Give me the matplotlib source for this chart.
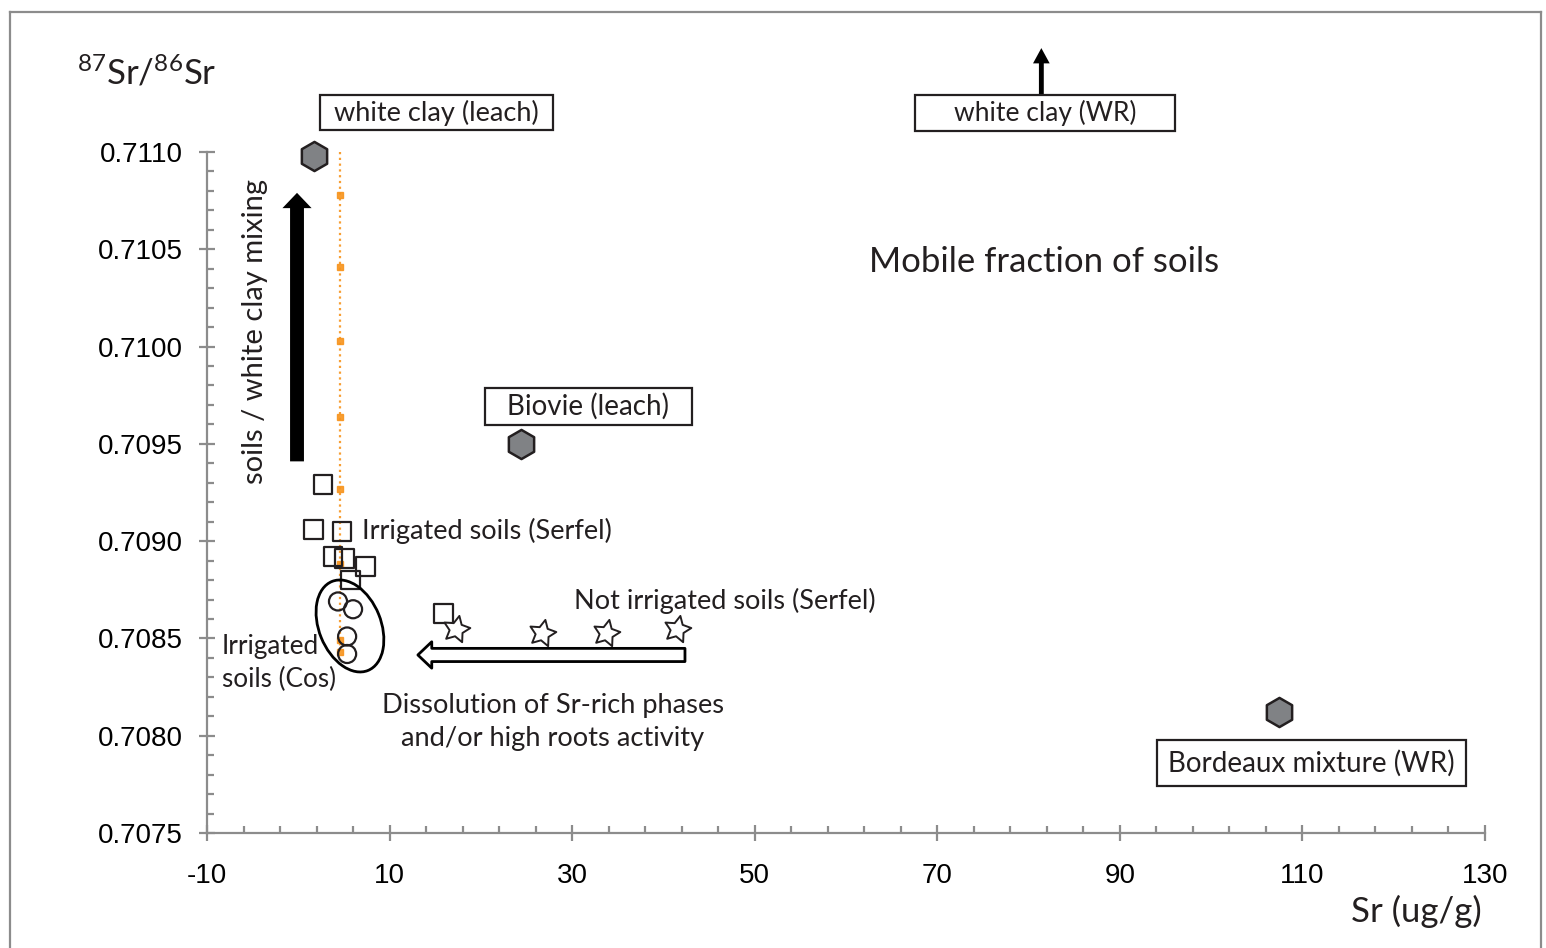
import numpy as np
import matplotlib
matplotlib.use("Agg")
import matplotlib.pyplot as plt
from matplotlib.patches import FancyArrowPatch, Ellipse, Rectangle
from matplotlib.ticker import FixedLocator, FormatStrFormatter
from matplotlib.transforms import ScaledTranslation
from matplotlib.lines import Line2D

# --- data ---
# end-members (hexagons)
hex_sr = [1.7, 24.4, 107.4]
hex_ratio = [0.71098, 0.70950, 0.70812]

# irrigated soils (Serfel) - open squares
irr_serfel_sr = [2.7, 1.7, 4.8, 3.8, 5.1, 7.4, 5.7, 15.9]
irr_serfel_ratio = [0.70929, 0.70906, 0.70905, 0.70892, 0.70891, 0.70887, 0.70880, 0.70863]

# irrigated soils (Cos) - open circles
irr_cos_sr = [4.35, 6.0, 5.35, 5.35]
irr_cos_ratio = [0.70869, 0.70865, 0.70851, 0.70842]

# not irrigated soils (Serfel) - stars
not_irr_sr = [17.3, 26.7, 33.7, 41.5]
not_irr_ratio = [0.70855, 0.70853, 0.70853, 0.70855]

# soils / white clay mixing line
mix_sr = [4.6, 4.6, 4.6, 4.6, 4.6, 4.6, 4.6, 4.6, 4.6]
mix_ratio = [0.71100, 0.71078, 0.71041, 0.71003, 0.70964, 0.70927, 0.70888, 0.70849, 0.70843]

xticks = [-10, 10, 30, 50, 70, 90, 110, 130]
yticks = [0.7075, 0.7080, 0.7085, 0.7090, 0.7095, 0.7100, 0.7105, 0.7110]

INK = "#231f20"
GRAY = "#8c8c8c"
ORANGE = "#f7941d"
FONT = ["Lato", "DejaVu Sans"]

plt.rcParams["mathtext.fontset"] = "custom"
plt.rcParams["mathtext.rm"] = "Lato"
plt.rcParams["mathtext.default"] = "regular"
plt.rcParams["axes.unicode_minus"] = False

fig = plt.figure(figsize=(15.46, 9.48), dpi=100)
ax = fig.add_axes([207 / 1546, 1 - 833 / 948, (1485 - 207) / 1546, (833 - 152) / 948])

# figure frame
for xs, ys in [([10, 10], [0, 936]), ([10, 1541], [936, 936]), ([1541, 1541], [936, 0])]:
    fig.add_artist(Line2D([x / 1546 for x in xs], [y / 948 for y in ys],
                          color=GRAY, lw=1.6, transform=fig.transFigure))

ax.set_xlim(-10, 130)
ax.set_ylim(0.7075, 0.7110)
for s in ["top", "right"]:
    ax.spines[s].set_visible(False)
for s in ["left", "bottom"]:
    ax.spines[s].set_color(GRAY)
    ax.spines[s].set_linewidth(1.6)

ax.xaxis.set_major_locator(FixedLocator(xticks))
ax.xaxis.set_minor_locator(FixedLocator(np.arange(-10, 131, 4)))
ax.yaxis.set_major_locator(FixedLocator(yticks))
ax.yaxis.set_minor_locator(FixedLocator(np.arange(0.7075, 0.71101, 0.0001)))
ax.yaxis.set_major_formatter(FormatStrFormatter("%.4f"))
ax.tick_params(which="major", direction="inout", length=11, width=1.6, color=GRAY,
               labelsize=20, labelcolor="black")
ax.tick_params(which="minor", direction="in", length=5, width=1.6, color=GRAY)
ax.tick_params(axis="x", which="major", pad=16)
ax.tick_params(axis="y", which="major", pad=12)
for lab in ax.get_xticklabels() + ax.get_yticklabels():
    lab.set_fontfamily(["Liberation Sans", "DejaVu Sans"])

# mixing line
ax.plot(mix_sr, mix_ratio, ls=(0, (1, 1.6)), color=ORANGE, lw=1.6, marker="s", ms=4,
        markevery=list(range(1, len(mix_ratio))), mec=ORANGE, mfc=ORANGE, alpha=0.9,
        zorder=2, clip_on=False)

ax.scatter(hex_sr, hex_ratio, marker="h", s=21 ** 2, facecolor="#808285", edgecolor=INK,
           linewidth=1.8, zorder=4, clip_on=False)
ax.scatter(irr_serfel_sr, irr_serfel_ratio, marker="s", s=13.5 ** 2, facecolor="none",
           edgecolor=INK, linewidth=1.6, zorder=3)
ax.scatter(irr_cos_sr, irr_cos_ratio, marker="o", s=13 ** 2, facecolor="none",
           edgecolor=INK, linewidth=1.6, zorder=3)
ax.scatter(not_irr_sr, not_irr_ratio, marker=(5, 1, -12), s=20 ** 2, facecolor="white",
           edgecolor=INK, linewidth=1.4, zorder=4)

# ellipse around Cos samples (size in inches)
ell = Ellipse((0, 0), 0.62, 0.96, angle=22, facecolor="none", edgecolor="black", lw=2,
              transform=fig.dpi_scale_trans + ScaledTranslation(5.66, 0.708564, ax.transData),
              clip_on=False, zorder=3)
ax.add_patch(ell)

# arrows
ax.add_patch(FancyArrowPatch((-0.14, 0.70941), (-0.14, 0.71079), mutation_scale=1,
                             arrowstyle="simple,head_length=11,head_width=21,tail_width=10",
                             color="black", lw=0, shrinkA=0, shrinkB=0, clip_on=False))
ax.add_patch(FancyArrowPatch((42.36, 0.708415), (13.1, 0.708415), mutation_scale=1,
                             arrowstyle="simple,head_length=10,head_width=19,tail_width=9.5",
                             facecolor="white", edgecolor="black", lw=2, shrinkA=0, shrinkB=0,
                             clip_on=False, zorder=3))
ax.add_patch(FancyArrowPatch((81.4, 0.711293), (81.4, 0.711534), mutation_scale=1,
                             arrowstyle="simple,head_length=11,head_width=12,tail_width=3.5",
                             color="black", lw=0, shrinkA=0, shrinkB=0, clip_on=False))

# boxed labels (centre x, centre y, width px, height px)
px_x = 1278 / 140.0
px_y = 681 / 0.0035
boxes = [("white clay (leach)", 15.14, 0.711203, 233, 35, 19.5),
         ("white clay (WR)", 81.8, 0.711200, 260, 36, 19),
         ("Biovie (leach)", 31.79, 0.709692, 207, 37, 20),
         ("Bordeaux mixture (WR)", 110.99, 0.707860, 309, 46, 20)]
for txt, cx, cy, w, h, fs in boxes:
    ax.add_patch(Rectangle((cx - w / 2 / px_x, cy - h / 2 / px_y), w / px_x, h / px_y,
                           facecolor="white", edgecolor=INK, lw=1.6, clip_on=False, zorder=5))
    ax.text(cx, cy, txt, ha="center", va="center", fontsize=fs, color=INK, family=FONT,
            zorder=6, clip_on=False)

ax.text(81.7, 0.710434, "Mobile fraction of soils", ha="center", va="center",
        fontsize=25, color=INK, family=FONT)
ax.text(6.98, 0.709052, "Irrigated soils (Serfel)", ha="left", va="center",
        fontsize=19.5, color=INK, family=FONT)
ax.text(30.2, 0.708692, "Not irrigated soils (Serfel)", ha="left", va="center",
        fontsize=19.5, color=INK, family=FONT)
ax.text(-8.36, 0.708374, "Irrigated\nsoils (Cos)", ha="left", va="center",
        fontsize=18.8, color=INK, family=FONT, linespacing=1.4)
ax.text(27.9, 0.708073, "Dissolution of Sr-rich phases\nand/or high roots activity",
        ha="center", va="center", fontsize=19.6, color=INK, family=FONT, linespacing=1.4)
ax.text(-4.74, 0.710075, "soils / white clay mixing", ha="center", va="center",
        rotation=90, fontsize=21, color=INK, family=FONT)

fig.text(77 / 1546, 1 - 85 / 948, r"$^{87}$Sr/$^{86}$Sr", ha="left", va="baseline",
         fontsize=25, color=INK, family=FONT)
fig.text(1482 / 1546, 1 - 922 / 948, "Sr (ug/g)", ha="right", va="baseline",
         fontsize=25, color=INK, family=FONT)

fig.savefig("out.png", dpi=100)
